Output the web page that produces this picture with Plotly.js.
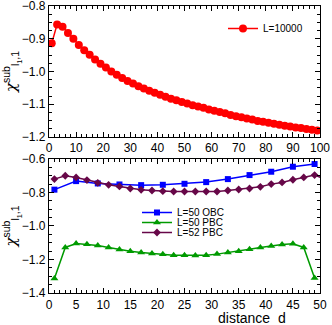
<!DOCTYPE html>
<html>
<head>
<meta charset="utf-8">
<script src="https://cdn.plot.ly/plotly-3.0.1.min.js"></script>
<style>
  html, body { margin: 0; padding: 0; background: #fff; }
  #Graph { width: 332px; height: 325px; }
</style>
</head>
<body>
<div id="Graph"></div>
<script>
// top panel: L=10000, odd distances 1..99
var d_long = [1,3,5,7,9,11,13,15,17,19,21,23,25,27,29,31,33,35,37,39,41,43,45,47,49,
  51,53,55,57,59,61,63,65,67,69,71,73,75,77,79,81,83,85,87,89,91,93,95,97,99];
var chi_L10000 = [-0.914,-0.856,-0.863,-0.882,-0.900,-0.919,-0.935,-0.949,-0.963,-0.976,
  -0.988,-1.000,-1.010,-1.020,-1.029,-1.037,-1.045,-1.052,-1.059,-1.065,
  -1.071,-1.077,-1.083,-1.088,-1.093,-1.098,-1.103,-1.107,-1.111,-1.116,
  -1.120,-1.124,-1.128,-1.133,-1.137,-1.140,-1.144,-1.147,-1.151,-1.154,
  -1.157,-1.160,-1.163,-1.166,-1.168,-1.171,-1.173,-1.176,-1.178,-1.180];

// bottom panel
var d_obc = [1,5,9,13,17,21,25,29,33,37,41,45,49];
var chi_L50_obc = [-0.783,-0.732,-0.746,-0.752,-0.756,-0.754,-0.748,-0.738,-0.720,-0.696,-0.676,-0.646,-0.630];

var d_pbc50 = [1,3,5,7,9,11,13,15,17,19,21,23,25,27,29,31,33,35,37,39,41,43,45,47,49];
var chi_L50_pbc = [-1.314,-1.128,-1.105,-1.109,-1.117,-1.128,-1.140,-1.151,-1.159,-1.165,
  -1.169,-1.175,-1.175,-1.177,-1.175,-1.168,-1.159,-1.151,-1.139,-1.128,-1.119,-1.110,-1.106,-1.128,-1.310];

var d_pbc52 = [1,3,5,7,9,11,13,15,17,19,21,23,25,27,29,31,33,35,37,39,41,43,45,47,49,51];
var chi_L52_pbc = [-0.720,-0.700,-0.710,-0.726,-0.742,-0.754,-0.764,-0.776,-0.784,-0.788,
  -0.792,-0.794,-0.794,-0.794,-0.794,-0.794,-0.788,-0.782,-0.776,-0.766,-0.750,-0.740,-0.724,-0.710,-0.696,-0.720];

var red = '#ff0000', blue = '#0000ff', green = '#009a00', maroon = '#670748';

var top_trace = {
  x: d_long, y: chi_L10000, xaxis: 'x2', yaxis: 'y2',
  type: 'scatter', mode: 'lines+markers', name: 'L=10000', legend: 'legend2',
  line: {color: red, width: 1.5},
  marker: {color: red, size: 8, symbol: 'circle'}
};
var obc = {
  x: d_obc, y: chi_L50_obc, type: 'scatter', mode: 'lines+markers', name: 'L=50 OBC',
  legend: 'legend3',
  line: {color: blue, width: 1.5}, marker: {color: blue, size: 6, symbol: 'square'}
};
var pbc50 = {
  x: d_pbc50, y: chi_L50_pbc, type: 'scatter', mode: 'lines+markers', name: 'L=50 PBC',
  legend: 'legend4',
  line: {color: green, width: 1.5}, marker: {color: green, size: 7, symbol: 'triangle-up'}
};
var pbc52 = {
  x: d_pbc52, y: chi_L52_pbc, type: 'scatter', mode: 'lines+markers', name: 'L=52 PBC',
  legend: 'legend5',
  line: {color: maroon, width: 1.5}, marker: {color: maroon, size: 6, symbol: 'diamond'},
  cliponaxis: false
};

var tickfont = {family: 'Liberation Sans, Arial, sans-serif', size: 12, color: '#000'};
function ax(extra) {
  var a = {
    showline: true, linecolor: '#000', linewidth: 1.2, mirror: 'ticks',
    ticks: 'inside', ticklen: 5, tickwidth: 1, tickcolor: '#000',
    showgrid: false, zeroline: false, tickfont: tickfont, ticklabeloverflow: 'allow'
  };
  for (var k in extra) a[k] = extra[k];
  return a;
}

var ytitle = '<span style="font-family:DejaVu Serif;font-style:italic">χ</span><sup>sub</sup><sub>l<sub>1</sub>,1</sub>';
var titlefont = {family: 'Liberation Sans, Arial, sans-serif', size: 15};

// plot area runs from y=6 to y=293 px
var H = 287;
// one legend per series so the rows can sit close together
function leg(ypx) {
  return {x: 0.321, y: (293 - ypx) / H, xanchor: 'left', yanchor: 'top',
    bgcolor: 'rgba(0,0,0,0)', bordercolor: 'rgba(0,0,0,0)', borderwidth: 1,
    font: {size: 10}, itemwidth: 30};
}

var layout = {
  width: 332, height: 325,
  margin: {l: 49, r: 12, t: 6, b: 32},
  paper_bgcolor: '#fff', plot_bgcolor: '#fff',
  showlegend: true,
  font: {family: 'Liberation Sans, Arial, sans-serif', color: '#000'},
  xaxis2: ax({domain: [0, 1], anchor: 'y2', range: [0, 100], dtick: 10,
    minor: {dtick: 2, ticks: 'inside', ticklen: 3, tickcolor: '#000'}}),
  yaxis2: ax({domain: [0.5436, 1], anchor: 'x2', range: [-1.2002, -0.7998], dtick: 0.1, tickformat: '.1f',
    minor: {dtick: 0.025, ticks: 'inside', ticklen: 3, tickcolor: '#000'},
    title: {text: ytitle, font: titlefont, standoff: 6}}),
  xaxis: ax({domain: [0, 1], anchor: 'y', range: [0, 50], dtick: 5,
    minor: {dtick: 1, ticks: 'inside', ticklen: 3, tickcolor: '#000'}}),
  yaxis: ax({domain: [0, 0.467], anchor: 'x', range: [-1.4002, -0.5998], dtick: 0.2, tickformat: '.1f',
    minor: {dtick: 0.05, ticks: 'inside', ticklen: 3, tickcolor: '#000'},
    title: {text: ytitle, font: titlefont, standoff: 6}}),
  legend2: {x: 0.642, y: (293 - 14) / H, xanchor: 'left', yanchor: 'top', bgcolor: 'rgba(0,0,0,0)',
    font: {size: 10}, itemwidth: 30},
  legend3: leg(197),
  legend4: leg(207),
  legend5: leg(217),
  annotations: [{
    text: 'distance  d', xref: 'paper', yref: 'paper', x: 0.748, y: (293 - 318) / H,
    xanchor: 'center', yanchor: 'middle', showarrow: false, font: {size: 14}
  }]
};

Plotly.newPlot('Graph', [top_trace, obc, pbc50, pbc52], layout, {displayModeBar: false});
</script>
</body>
</html>
